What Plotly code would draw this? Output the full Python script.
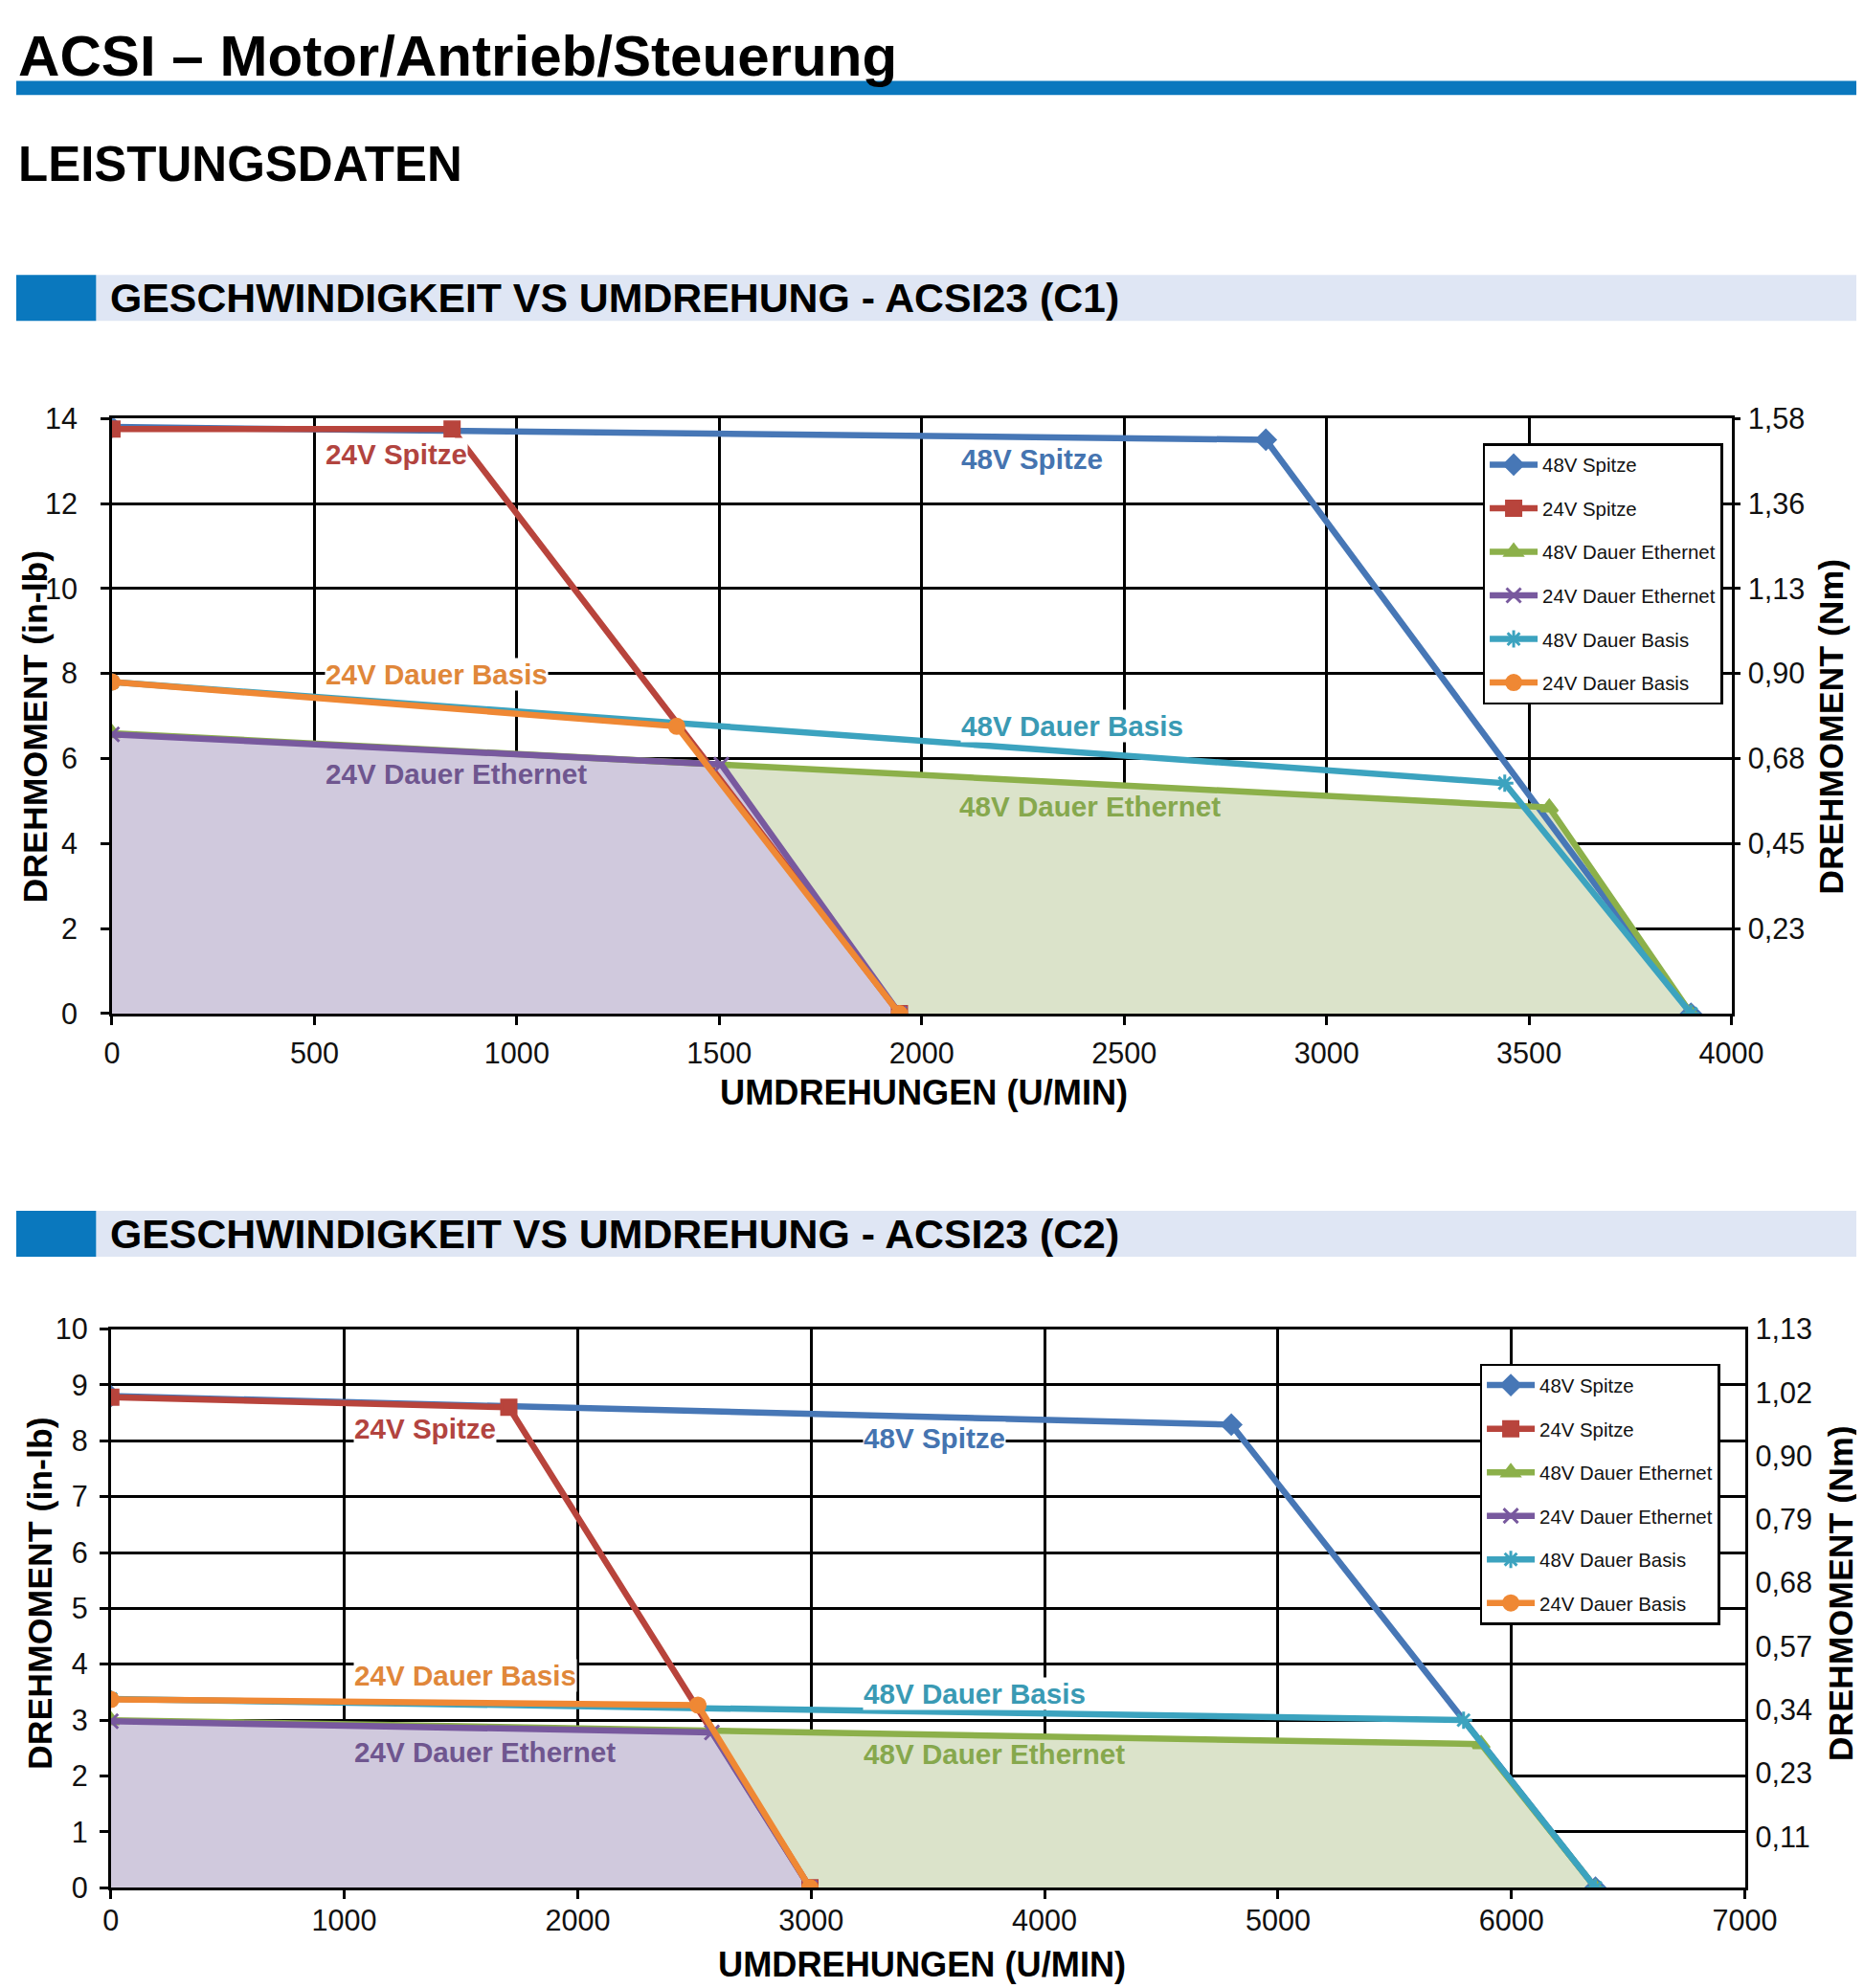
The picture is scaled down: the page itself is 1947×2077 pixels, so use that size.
import plotly.graph_objects as go

# The photographed page shows the figure at a small offset and a slight scale;
# coordinates below are given in reference-picture pixels and mapped to paper.
SX, SY = 0.978, 0.984
MX, MY = 16, 25
W, H = 1965, 2075
FS = 1 / 0.981

# ---------------- data ----------------
series_names = ["48V Spitze", "24V Spitze", "48V Dauer Ethernet",
                "24V Dauer Ethernet", "48V Dauer Basis", "24V Dauer Basis"]

# Chart C1 (rpm, in-lb)
c1_48v_spitze_x = [0, 2850, 3900]
c1_48v_spitze_y = [13.8, 13.5, 0]
c1_24v_spitze_x = [0, 840, 1945]
c1_24v_spitze_y = [13.75, 13.75, 0]
c1_48v_eth_x = [0, 3550, 3900]
c1_48v_eth_y = [6.6, 4.85, 0]
c1_24v_eth_x = [0, 1505, 1945]
c1_24v_eth_y = [6.57, 5.86, 0]
c1_48v_basis_x = [0, 3440, 3900]
c1_48v_basis_y = [7.8, 5.42, 0]
c1_24v_basis_x = [0, 1395, 1945]
c1_24v_basis_y = [7.8, 6.76, 0]

# Chart C2 (rpm, in-lb)
c2_48v_spitze_x = [0, 4800, 6360]
c2_48v_spitze_y = [8.8, 8.29, 0]
c2_24v_spitze_x = [0, 1705, 2995]
c2_24v_spitze_y = [8.78, 8.6, 0]
c2_48v_eth_x = [0, 5870, 6360]
c2_48v_eth_y = [3.0, 2.57, 0]
c2_24v_eth_x = [0, 2575, 2995]
c2_24v_eth_y = [2.98, 2.78, 0]
c2_48v_basis_x = [0, 5795, 6360]
c2_48v_basis_y = [3.38, 3.0, 0]
c2_24v_basis_x = [0, 2515, 2995]
c2_24v_basis_y = [3.37, 3.27, 0]

# tick labels
c1_x_ticks = [0, 500, 1000, 1500, 2000, 2500, 3000, 3500, 4000]
c1_y_ticks = [0, 2, 4, 6, 8, 10, 12, 14]
c1_nm_vals = [2, 4, 6, 8, 10, 12, 14]
c1_nm_text = ["0,23", "0,45", "0,68", "0,90", "1,13", "1,36", "1,58"]

c2_x_ticks = [0, 1000, 2000, 3000, 4000, 5000, 6000, 7000]
c2_y_ticks = list(range(0, 11))
c2_nm_vals = list(range(0, 9))
c2_nm_text = ["0,11", "0,23", "0,34", "0,57", "0,68", "0,79", "0,90", "1,02", "1,13"]

# in-chart labels: (text, rpm, torque)
c1_labels = [("24V Spitze", 525, 13.16), ("48V Spitze", 2095, 13.04),
             ("24V Dauer Basis", 525, 7.99), ("48V Dauer Basis", 2095, 6.76),
             ("24V Dauer Ethernet", 525, 5.65), ("48V Dauer Ethernet", 2090, 4.88)]
c2_labels = [("24V Spitze", 1040, 8.22), ("48V Spitze", 3220, 8.04),
             ("24V Dauer Basis", 1040, 3.80), ("48V Dauer Basis", 3220, 3.48),
             ("24V Dauer Ethernet", 1040, 2.43), ("48V Dauer Ethernet", 3220, 2.39)]

# ---------------- styles ----------------
colors = {"48V Spitze": "#4777b6", "24V Spitze": "#b8443c",
          "48V Dauer Ethernet": "#8cb04a", "24V Dauer Ethernet": "#78599e",
          "48V Dauer Basis": "#3ca3bf", "24V Dauer Basis": "#ef8834"}
label_colors = {"48V Spitze": "#4574b0", "24V Spitze": "#b2443f",
                "48V Dauer Ethernet": "#86a84d", "24V Dauer Ethernet": "#6f568f",
                "48V Dauer Basis": "#3a9ab4", "24V Dauer Basis": "#e0873a"}
symbols = {"48V Spitze": "diamond", "24V Spitze": "square",
           "48V Dauer Ethernet": "triangle-up", "24V Dauer Ethernet": "x-thin-open",
           "48V Dauer Basis": "asterisk-open", "24V Dauer Basis": "circle"}
labels_with_bg = {"24V Spitze", "48V Spitze", "24V Dauer Basis", "48V Dauer Basis"}
FILL_PURPLE = "#d0c9dd"
FILL_GREEN = "#dbe3ca"

FONT = "Liberation Sans, Arial, sans-serif"

fig = go.Figure()


def fx(p):
    return min(max((p / SX - MX) / W, 0), 1)


def fy(p):
    return min(max(1 - (p / SY - MY) / H, 0), 1)


def fs(s):
    return round(s * FS, 1)


def add_chart(idx, data, xdom, ydom, xr, yr, xt, yt, nmv, nmt, y2range, labels,
              legend_name, legend_pos, y2ticks, ystand, xstand):
    xa = "x" if idx == 1 else "x2"
    ya = "y" if idx == 1 else "y3"
    ya2 = "y2" if idx == 1 else "y4"
    # fills first (green then purple)
    for name, fc in (("48V Dauer Ethernet", FILL_GREEN), ("24V Dauer Ethernet", FILL_PURPLE)):
        xs, ys = data[name]
        fig.add_trace(go.Scatter(x=xs, y=ys, xaxis=xa, yaxis=ya, mode="lines",
                                 line=dict(width=0), fill="tozeroy", fillcolor=fc,
                                 showlegend=False, hoverinfo="skip"))
    for name in series_names:
        xs, ys = data[name]
        fig.add_trace(go.Scatter(
            x=xs, y=ys, xaxis=xa, yaxis=ya, mode="lines+markers", name=name,
            line=dict(color=colors[name], width=6.5),
            marker=dict(symbol=symbols[name], size=15, color=colors[name],
                        line=dict(color=colors[name], width=3)),
            legend=legend_name, legendgroup=f"{idx}{name}"))
    # dummy trace for the secondary axis
    fig.add_trace(go.Scatter(x=[None], y=[None], xaxis=xa, yaxis=ya2, showlegend=False,
                             hoverinfo="skip"))
    for text, lx, ly in labels:
        fig.add_annotation(x=lx, y=ly, xref=xa, yref=ya, text=f"<b>{text}</b>",
                           showarrow=False, xanchor="left", yanchor="middle",
                           font=dict(family=FONT, size=fs(29), color=label_colors[text]),
                           bgcolor="white" if text in labels_with_bg else "rgba(0,0,0,0)",
                           borderpad=0)
    axis_common = dict(showgrid=True, gridcolor="black", gridwidth=2.8,
                       showline=True, linecolor="black", linewidth=2.8, mirror=True,
                       ticks="outside", ticklen=9, tickwidth=2.5, tickcolor="black",
                       zeroline=False,
                       tickfont=dict(family=FONT, size=fs(30), color="#111"))
    xkey = "xaxis" if idx == 1 else "xaxis2"
    ykey = "yaxis" if idx == 1 else "yaxis3"
    y2key = "yaxis2" if idx == 1 else "yaxis4"
    fig.update_layout(**{
        xkey: dict(domain=xdom, range=xr, tickvals=xt, anchor=ya,
                   ticklabelstandoff=xstand, **axis_common),
        ykey: dict(domain=ydom, range=yr, tickvals=yt, anchor=xa,
                   ticklabelstandoff=ystand, **axis_common),
        y2key: dict(domain=ydom, range=y2range, tickvals=nmv, ticktext=nmt,
                    overlaying=ya, side="right", anchor=xa, showgrid=False,
                    zeroline=False, showline=False,
                    ticks="outside" if y2ticks else "", ticklen=8, tickwidth=2.5,
                    tickcolor="black", ticklabelstandoff=2 if y2ticks else 10,
                    tickfont=dict(family=FONT, size=fs(30), color="#111")),
    })
    fig.update_layout(**{legend_name: dict(
        x=legend_pos[0], y=legend_pos[1], xanchor="right", yanchor="top",
        bgcolor="white", bordercolor="black", borderwidth=2.5,
        font=dict(family=FONT, size=fs(20), color="#111"),
        tracegroupgap=16, itemwidth=50, itemsizing="trace")})


c1_data = {"48V Spitze": (c1_48v_spitze_x, c1_48v_spitze_y),
           "24V Spitze": (c1_24v_spitze_x, c1_24v_spitze_y),
           "48V Dauer Ethernet": (c1_48v_eth_x, c1_48v_eth_y),
           "24V Dauer Ethernet": (c1_24v_eth_x, c1_24v_eth_y),
           "48V Dauer Basis": (c1_48v_basis_x, c1_48v_basis_y),
           "24V Dauer Basis": (c1_24v_basis_x, c1_24v_basis_y)}
c2_data = {"48V Spitze": (c2_48v_spitze_x, c2_48v_spitze_y),
           "24V Spitze": (c2_24v_spitze_x, c2_24v_spitze_y),
           "48V Dauer Ethernet": (c2_48v_eth_x, c2_48v_eth_y),
           "24V Dauer Ethernet": (c2_24v_eth_x, c2_24v_eth_y),
           "48V Dauer Basis": (c2_48v_basis_x, c2_48v_basis_y),
           "24V Dauer Basis": (c2_24v_basis_x, c2_24v_basis_y)}

add_chart(1, c1_data, [fx(115.6), fx(1807)], [fy(1059), fy(437)],
          [0, 4000], [0, 14], c1_x_ticks, c1_y_ticks, c1_nm_vals, c1_nm_text,
          [0, 14], c1_labels, "legend", (fx(1798), fy(463)), True, 18, 3)
add_chart(2, c2_data, [fx(114.4), fx(1821)], [fy(1972.6), fy(1388.7)],
          [0, 7000], [0, 10], c2_x_ticks, c2_y_ticks, c2_nm_vals, c2_nm_text,
          [-0.805, 8.0], c2_labels, "legend2", (fx(1795), fy(1425)), False, 6, -4)

# ---------------- page decorations ----------------
BLUE = "#0a78be"
shapes = [
    dict(type="rect", xref="paper", yref="paper", x0=0, x1=1, y0=fy(99), y1=fy(84),
         fillcolor=BLUE, line=dict(width=0), layer="below"),
]
for top, bot in ((287, 335), (1265, 1313)):
    shapes.append(dict(type="rect", xref="paper", yref="paper", x0=fx(99), x1=1,
                       y0=fy(bot), y1=fy(top), fillcolor="#dfe6f4", line=dict(width=0),
                       layer="below"))
    shapes.append(dict(type="rect", xref="paper", yref="paper", x0=0, x1=fx(99),
                       y0=fy(bot), y1=fy(top), fillcolor=BLUE, line=dict(width=0),
                       layer="below"))
fig.update_layout(shapes=shapes)


def txt(text, x, y, size, xanchor="left", angle=0, yanchor="middle", yshift=0):
    fig.add_annotation(x=fx(x), y=fy(y) if y is not None else 1, xref="paper", yref="paper",
                       text=f"<b>{text}</b>", showarrow=False, xanchor=xanchor,
                       yanchor=yanchor, textangle=angle, yshift=yshift,
                       font=dict(family=FONT, size=fs(size), color="black"))


# main title sits at the very top of the page
txt("ACSI – Motor/Antrieb/Steuerung", 0, None, 59, yanchor="top", yshift=2)
txt("LEISTUNGSDATEN", 0, 171, 50)
txt("GESCHWINDIGKEIT VS UMDREHUNG - ACSI23 (C1)", 112, 311, 42)
txt("GESCHWINDIGKEIT VS UMDREHUNG - ACSI23 (C2)", 112, 1289, 42)
txt("UMDREHUNGEN (U/MIN)", 964, 1142, 35.5, xanchor="center")
txt("UMDREHUNGEN (U/MIN)", 962, 2053, 35.5, xanchor="center")
txt("DREHMOMENT (in-lb)", 36, 759, 35, xanchor="center", angle=-90)
txt("DREHMOMENT (in-lb)", 40, 1665, 35, xanchor="center", angle=-90)
txt("DREHMOMENT (Nm)", 1912, 759, 35, xanchor="center", angle=-90)
txt("DREHMOMENT (Nm)", 1921, 1665, 35, xanchor="center", angle=-90)

fig.update_layout(width=W, height=H, autosize=False,
                  margin=dict(l=0, r=0, t=0, b=0),
                  paper_bgcolor="white", plot_bgcolor="white")

fig.write_html("out.html")
